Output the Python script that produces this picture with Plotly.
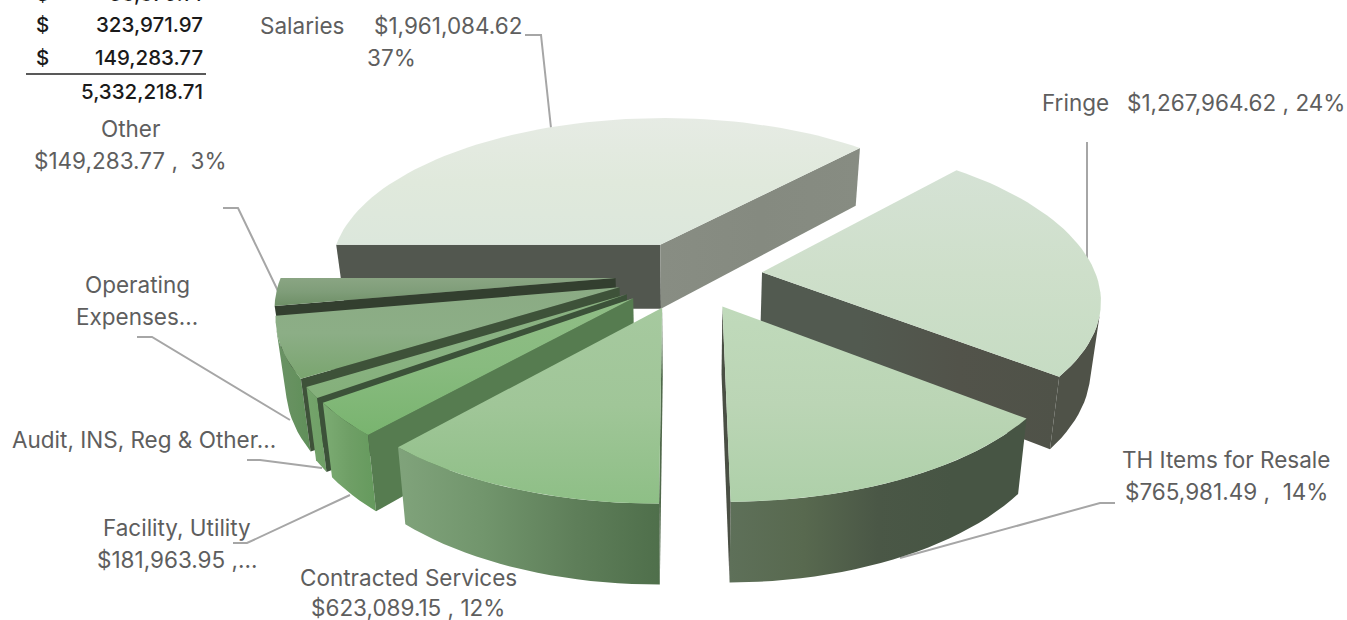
import math
import plotly.graph_objects as go

# ---- data ----
categories = ["Salaries", "Fringe", "TH Items for Resale", "Contracted Services",
              "Facility, Utility", "Audit, INS, Reg & Other", "Operating Expenses", "Other"]
values = [1961084.62, 1267964.62, 765981.49, 623089.15, 181963.95, 58879.14, 323971.97, 149283.77]
table_rows = ["58,879.14", "323,971.97", "149,283.77"]
table_total = "5,332,218.71"

top_colors = [["#dce7dc", "#e0e9dc", "#e6ebe4"],
              ["#c6dcc3", "#cedfca", "#d5e2d5"],
              ["#aed0a9", "#bbd5b5", "#c0dabb"],
              ["#8ebf86", "#a0c698", "#a6c99f"],
              ["#79b46f", "#88bb7f", "#90bd86"],
              ["#84b07a", "#8ab283", "#88b07f"],
              ["#7aa56f", "#8cae86", "#8bab84"],
              ["#6e8f66", "#7f9d79", "#8aa583"]]
arc_colors = [["#878c82", "#878c82"],
              ["#4f5248", "#4f5248"],
              ["#5e7059", "#58694f", "#4a5746", "#475544", "#475544"],
              ["#80a37b", "#71956c", "#5f7f5a", "#4f6f4b"],
              ["#7cac73", "#6f9f66", "#659a5d"],
              ["#74a46b", "#6f9f66"],
              ["#6a9265", "#66915f", "#5f8f59"],
              ["#688c60", "#688c60"]]
wall_start = [["#52574f"] * 2, ["#858a80"] * 2, ["#4a5c48"] * 2, ["#50694b"] * 2,
              ["#567c50"] * 2, ["#3c5239"] * 2, ["#3e5239"] * 2, ["#333f2f"] * 2]
wall_end = [["#888d83", "#858a80", "#878c82"], ["#525a50", "#525a50", "#52534a", "#4f5248"],
            ["#4a4f44"] * 2, ["#547450"] * 2, ["#567c50", "#5f8458", "#668562"],
            ["#3f553c"] * 2, ["#3c4f38"] * 2, ["#333f2f"] * 2]

labels = [
    ("Salaries", 258, 25, "left"), ("$1,961,084.62", 524, 25, "right"), ("37%", 365, 57, "left"),
    ("Fringe", 1040, 102, "left"), ("$1,267,964.62 , 24%", 1347, 102, "right"),
    ("TH Items for Resale", 1226, 459, "center"), ("$765,981.49 ,  14%", 1226, 491, "center"),
    ("Contracted Services", 408, 577, "center"), ("$623,089.15 , 12%", 408, 607, "center"),
    ("Facility, Utility", 177, 527, "center"), ("$181,963.95 ,...", 177, 559, "center"),
    ("Audit, INS, Reg & Other...", 144, 439, "center"),
    ("Operating", 137, 284, "center"), ("Expenses...", 137, 316, "center"),
    ("Other", 130, 128, "center"), ("$149,283.77 ,  3%", 130, 160, "center"),
]
leaders = [
    ([525, 541, 551], [35, 35, 128]),
    ([1087, 1087], [142, 260]),
    ([1115, 1100, 900], [503, 503, 558]),
    ([233, 247, 350], [543, 543, 495]),
    ([247, 260, 322], [460, 460, 468]),
    ([137, 152, 290], [337, 337, 420]),
    ([223, 238, 278], [208, 208, 291]),
]

# ---- projection ----
CX, CY, RX, KY, H, P, EXPL, START, SHRINK = 689, 275, 334, 154.6, 66, 0.153, 0.22, 270.0, 0.025


def proj(x, y, z=0.0):
    s = 1 / (1 + P * y)
    return CX + RX * x * s * (1 - SHRINK * z), CY - KY * y * s + z * H * s


def area(pts):
    return sum(pts[i][0] * pts[(i + 1) % len(pts)][1] - pts[(i + 1) % len(pts)][0] * pts[i][1]
               for i in range(len(pts))) / 2


def scale(cols):
    n = len(cols) - 1
    return [[i / n, c] for i, c in enumerate(cols)]


def face(fig, pts, cols, kind):
    xs = [p[0] for p in pts] + [pts[0][0]]
    ys = [p[1] for p in pts] + [pts[0][1]]
    fig.add_trace(go.Scatter(x=xs, y=ys, mode="lines", fill="toself",
                             line=dict(width=0, color=cols[0]),
                             fillgradient=dict(type=kind, colorscale=scale(cols)),
                             hoverinfo="skip", showlegend=False))


fig = go.Figure()
for lx, ly in leaders:
    fig.add_trace(go.Scatter(x=lx, y=ly, mode="lines", line=dict(color="#a6a6a6", width=2),
                             hoverinfo="skip", showlegend=False))

total = sum(values)
slices = []
ang = START
for i, v in enumerate(values):
    sweep = v / total * 360
    slices.append((i, ang, sweep))
    ang += sweep

for idx in [0, 7, 6, 5, 4, 3, 1, 2]:
    i, a0, sw = slices[idx]
    mid = math.radians(a0 + sw / 2)
    ox, oy = EXPL * math.sin(mid), EXPL * math.cos(mid)
    n = max(4, int(sw / 2))
    rim = []
    for k in range(n + 1):
        t = math.radians(a0 + sw * k / n)
        rim.append((ox + math.sin(t), oy + math.cos(t)))
    apex = (ox, oy)
    run = []
    for k in range(n):
        p, q = rim[k], rim[k + 1]
        quad = [proj(*p), proj(*q), proj(*q, 1), proj(*p, 1)]
        if area(quad) < 0:
            run.append(k)
    if run:
        kk = run + [run[-1] + 1]
        pts = [proj(*rim[k]) for k in kk] + [proj(*rim[k], 1) for k in reversed(kk)]
        face(fig, pts, arc_colors[i], "horizontal")
    q1 = [proj(*apex), proj(*rim[0]), proj(*rim[0], 1), proj(*apex, 1)]
    if area(q1) < 0:
        face(fig, q1, wall_start[i], "horizontal")
    q2 = [proj(*rim[-1]), proj(*apex), proj(*apex, 1), proj(*rim[-1], 1)]
    if area(q2) < 0:
        face(fig, q2, wall_end[i], "horizontal")
    face(fig, [proj(*apex)] + [proj(*r) for r in rim], top_colors[i], "vertical")

LABEL_FONT = dict(family="Inter", size=22.5, color="#5e5e5e")
TABLE_FONT = dict(family="Inter", size=20.5, color="#1a1a1a", weight=500)
ann = [dict(x=x, y=y, text=t, xanchor=a, yanchor="middle", showarrow=False, font=LABEL_FONT)
       for t, x, y, a in labels]
for row, y in zip(table_rows, [-6, 25, 58]):
    py = 1 - y / 620
    ann.append(dict(x=43 / 1347, y=py, xref="paper", yref="paper", text="$", xanchor="center",
                    yanchor="middle", showarrow=False, font=TABLE_FONT))
    ann.append(dict(x=205 / 1347, y=py, xref="paper", yref="paper", text=row, xanchor="right",
                    yanchor="middle", showarrow=False, font=TABLE_FONT))
ann.append(dict(x=205, y=91, text=table_total, xanchor="right", yanchor="middle", showarrow=False,
                font=TABLE_FONT))

fig.update_layout(
    width=1347, height=620, margin=dict(l=0, r=0, t=0, b=0),
    paper_bgcolor="white", plot_bgcolor="white", showlegend=False, annotations=ann,
    xaxis=dict(range=[0, 1347], visible=False, fixedrange=True),
    yaxis=dict(range=[620, 0], visible=False, fixedrange=True),
    shapes=[dict(type="line", x0=26, x1=206, y0=74, y1=74, line=dict(color="#222222", width=1.5))],
)
fig.write_html("out.html", post_script="document.body.style.margin='0';",
               config=dict(displayModeBar=False))
